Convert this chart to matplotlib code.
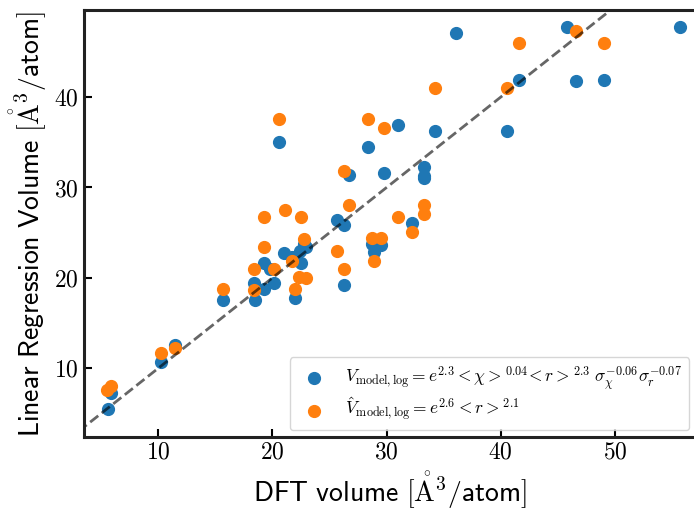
import numpy
import matplotlib
matplotlib.use("Agg")
import matplotlib.pyplot as plt

# DFT volume vs. predicted volume, A^3/atom
dft_full = [5.64, 5.85, 10.26, 11.5, 15.64, 18.4, 18.5, 19.3, 19.8, 19.24,
            20.1, 21.05, 21.7, 22.0, 22.4, 22.5, 22.8, 22.9, 25.7, 26.26,
            26.26, 28.75, 29.47, 28.9, 20.6, 28.4, 29.8, 26.7, 36.1, 45.8,
            55.7, 41.6, 46.6, 49.0, 34.2, 40.5, 31.0, 33.3, 33.3, 33.3, 32.2]
pred_full = [5.55, 7.3, 10.7, 12.6, 17.5, 19.4, 17.5, 21.6, 21.0, 18.8,
             19.4, 22.7, 22.3, 17.8, 23.0, 21.6, 23.8, 23.4, 26.35, 25.9,
             19.2, 23.8, 23.6, 22.85, 35.0, 34.45, 31.6, 31.4, 47.05, 47.7,
             47.7, 41.9, 41.75, 41.9, 36.2, 36.2, 36.9, 32.25, 31.3, 31.1, 26.1]

dft_r = [5.55, 5.85, 10.26, 11.5, 15.64, 18.36, 18.36, 19.24, 19.3, 20.1,
         21.1, 21.7, 22.0, 22.5, 22.3, 22.95, 22.75, 25.7, 26.26, 26.7,
         28.75, 29.47, 28.9, 20.6, 28.4, 29.8, 26.3, 46.6, 41.6, 49.0,
         40.5, 34.2, 33.3, 33.3, 31.0, 32.2]
pred_r = [7.65, 8.0, 11.7, 12.2, 18.8, 21.0, 18.7, 23.4, 26.7, 21.0,
          27.5, 21.9, 18.8, 26.7, 20.1, 20.0, 24.3, 23.0, 21.0, 28.1,
          24.4, 24.4, 21.9, 37.6, 37.6, 36.6, 31.8, 47.35, 46.0, 46.0,
          41.0, 41.0, 28.1, 27.1, 26.7, 25.1]

plt.rcParams.update({"font.family": "cmr10", "mathtext.fontset": "cm",
                     "axes.formatter.use_mathtext": True})

fig = plt.figure(figsize=(6.94, 5.12), dpi=100)
ax = fig.add_axes([0.121, 0.1465, 0.882, 0.8335])

ax.scatter(dft_full, pred_full, s=72, color="#1f77b4",
           label=r"$V_{\rm model,log} = e^{2.3} <\chi>^{0.04}\!<r>^{2.3}\ "
                 r"\sigma_\chi^{-0.06}\sigma_r^{-0.07}$")
ax.scatter(dft_r, pred_r, s=72, color="#ff7f0e",
           label=r"$\hat{V}_{\rm model,log} = e^{2.6} <r>^{2.1}$")

lims = numpy.array([0, 60])
ax.plot(lims, lims, "--", color="k", alpha=0.6, lw=2)

ax.set_xlim(3.5, 57.1)
ax.set_ylim(2.4, 49.6)
ax.set_xticks([10, 20, 30, 40, 50])
ax.set_yticks([10, 20, 30, 40])

ax.tick_params(direction="in", length=6, width=1.5, labelsize=17)
for sp in ax.spines.values():
    sp.set_linewidth(2.2)
    sp.set_color("#222222")

ax.set_xlabel(r"$\mathsf{DFT\ volume\ }[\mathring{\mathrm{A}}^3\mathsf{/atom}]$",
              fontsize=20)
ax.set_ylabel(r"$\mathsf{Linear\ Regression\ Volume\ }[\mathring{\mathrm{A}}^3\mathsf{/atom}]$",
              fontsize=20)

ax.legend(loc="lower right", fontsize=12.5, handletextpad=0.8,
          labelspacing=0.25, borderaxespad=0.4)

plt.savefig("out.png", dpi=100)
